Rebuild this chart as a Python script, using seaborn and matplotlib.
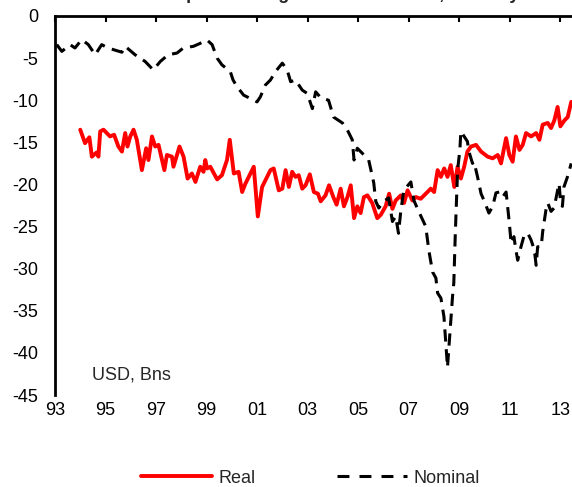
import matplotlib
matplotlib.use("Agg")
import matplotlib.pyplot as plt
from matplotlib.lines import Line2D
import seaborn as sns
import pandas as pd

# decimal year, USD bn
real_years = [1994.0, 1994.19, 1994.36, 1994.46, 1994.65, 1994.72, 1994.79, 1994.92,
              1995.05, 1995.18, 1995.34, 1995.51, 1995.65, 1995.78, 1995.87, 1995.98,
              1996.11, 1996.24, 1996.44, 1996.61, 1996.70, 1996.84, 1996.97, 1997.10,
              1997.33, 1997.43, 1997.63, 1997.69, 1997.93, 1998.09, 1998.25, 1998.42,
              1998.56, 1998.75, 1998.88, 1998.95, 1999.02, 1999.15, 1999.42, 1999.61,
              1999.81, 1999.92, 2000.08, 2000.27, 2000.41, 2000.54, 2000.74, 2000.87,
              2001.03, 2001.20, 2001.40, 2001.53, 2001.66, 2001.86, 2002.00, 2002.13,
              2002.26, 2002.39, 2002.52, 2002.65, 2002.79, 2002.92, 2003.09, 2003.25,
              2003.41, 2003.52, 2003.71, 2003.85, 2004.02, 2004.15, 2004.31, 2004.44,
              2004.58, 2004.71, 2004.84, 2004.97, 2005.10, 2005.23, 2005.37, 2005.56,
              2005.76, 2005.90, 2006.09, 2006.23, 2006.36, 2006.49, 2006.69, 2006.82,
              2006.96, 2007.15, 2007.29, 2007.48, 2007.75, 2007.88, 2008.01, 2008.15,
              2008.28, 2008.41, 2008.54, 2008.67, 2008.81, 2008.94, 2009.07, 2009.20,
              2009.33, 2009.47, 2009.67, 2009.87, 2010.13, 2010.33, 2010.53, 2010.66,
              2010.86, 2010.99, 2011.12, 2011.25, 2011.39, 2011.52, 2011.65, 2011.85,
              2012.05, 2012.18, 2012.31, 2012.51, 2012.64, 2012.77, 2012.90, 2013.01,
              2013.17, 2013.30, 2013.44, 2013.50]
real_vals = [-13.5, -15.1, -14.4, -16.7, -16.2, -16.7, -13.7, -13.5,
             -13.9, -14.3, -14.1, -15.5, -16.1, -13.9, -15.5, -14.3,
             -13.5, -14.7, -18.3, -15.7, -17.1, -14.3, -15.5, -15.3,
             -18.3, -16.5, -16.7, -17.9, -15.5, -16.7, -19.3, -18.7,
             -19.7, -17.9, -18.5, -17.1, -18.1, -17.9, -19.4, -18.9,
             -17.1, -14.7, -18.7, -18.5, -20.9, -19.9, -18.7, -17.9,
             -23.8, -20.3, -19.1, -18.3, -18.1, -20.7, -20.5, -18.3,
             -20.3, -18.5, -19.1, -18.9, -20.5, -20.1, -18.8, -20.9,
             -21.1, -22.0, -21.3, -20.1, -21.5, -22.4, -20.5, -22.6,
             -21.5, -20.1, -24.0, -22.6, -23.4, -21.5, -21.3, -22.2,
             -24.0, -23.6, -22.6, -21.1, -22.9, -21.9, -21.3, -22.2,
             -20.7, -21.9, -21.5, -21.7, -20.9, -20.5, -20.9, -18.3,
             -19.1, -18.1, -19.1, -17.7, -20.3, -17.9, -19.3, -17.9,
             -16.1, -15.5, -15.3, -16.1, -16.7, -16.9, -16.5, -17.5,
             -14.5, -16.5, -17.3, -14.3, -15.9, -15.3, -13.9, -14.3,
             -13.9, -14.7, -12.9, -12.7, -13.3, -12.4, -10.8, -13.1,
             -12.4, -12.0, -10.2, -10.2]

nominal_years = [1993.07, 1993.27, 1993.60, 1993.79, 1994.06, 1994.32, 1994.59, 1994.85,
                 1995.10, 1995.65, 1995.78, 1996.17, 1996.57, 1996.89, 1997.17, 1997.48,
                 1997.83, 1998.08, 1998.48, 1998.71, 1999.02, 1999.22, 1999.42, 1999.61,
                 1999.94, 2000.05, 2000.21, 2000.47, 2000.74, 2001.00, 2001.13, 2001.33,
                 2001.53, 2001.73, 2002.00, 2002.19, 2002.33, 2002.52, 2002.79, 2002.99,
                 2003.19, 2003.32, 2003.52, 2003.83, 2004.03, 2004.38, 2004.57, 2004.77,
                 2004.84, 2004.97, 2005.30, 2005.42, 2005.57, 2005.62, 2005.70, 2005.82,
                 2006.02, 2006.21, 2006.36, 2006.49, 2006.60, 2006.69, 2006.81, 2007.09,
                 2007.21, 2007.40, 2007.68, 2007.80, 2007.95, 2008.08, 2008.15, 2008.28,
                 2008.40, 2008.54, 2008.74, 2008.79, 2008.85, 2008.94, 2009.03, 2009.07,
                 2009.20, 2009.33, 2009.39, 2009.53, 2009.59, 2009.73, 2009.87, 2010.00,
                 2010.18, 2010.33, 2010.46, 2010.59, 2010.72, 2010.86, 2010.92, 2010.99,
                 2011.06, 2011.17, 2011.25, 2011.32, 2011.45, 2011.58, 2011.72, 2011.85,
                 2011.98, 2012.05, 2012.11, 2012.25, 2012.31, 2012.44, 2012.51, 2012.64,
                 2012.76, 2012.90, 2012.96, 2013.02, 2013.09, 2013.15, 2013.29, 2013.44]
nominal_vals = [-3.4, -4.2, -3.4, -3.8, -2.8, -3.4, -4.6, -3.4,
                -3.8, -4.3, -3.6, -4.6, -5.4, -6.4, -5.4, -4.6,
                -4.4, -3.8, -3.6, -3.3, -2.85, -3.4, -5.0, -5.8,
                -6.6, -7.6, -8.4, -9.4, -9.8, -10.2, -9.6, -8.2,
                -7.6, -6.6, -5.6, -6.4, -7.8, -7.6, -8.8, -9.2,
                -11.0, -9.0, -9.7, -10.0, -12.0, -12.7, -13.5, -14.7,
                -17.1, -15.7, -16.7, -17.1, -19.1, -19.8, -22.0, -22.8,
                -22.0, -21.6, -24.4, -23.8, -25.8, -23.2, -20.7, -19.7,
                -21.9, -23.2, -25.0, -27.8, -30.4, -31.1, -32.9, -33.5,
                -35.7, -41.7, -33.3, -31.7, -25.8, -18.3, -15.9, -13.7,
                -14.3, -14.9, -16.1, -17.5, -17.3, -19.1, -21.1, -22.0,
                -23.4, -22.6, -21.0, -20.9, -21.5, -20.9, -22.6, -24.6,
                -27.0, -26.2, -27.8, -29.0, -27.4, -26.0, -25.8, -26.6,
                -27.8, -29.6, -27.4, -27.4, -25.6, -23.0, -22.2, -23.2,
                -22.8, -20.7, -19.9, -22.2, -22.6, -20.3, -19.1, -17.5]

xtick_pos = [1993, 1995, 1997, 1999, 2001, 2003, 2005, 2007, 2009, 2011, 2013]
xtick_labels = ["93", "95", "97", "99", "01", "03", "05", "07", "09", "11", "13"]
ytick_pos = [0, -5, -10, -15, -20, -25, -30, -35, -40, -45]

sns.set_style("white")
plt.rcParams["font.family"] = ["Liberation Sans", "DejaVu Sans"]
plt.rcParams["font.size"] = 13

real_df = pd.DataFrame({"year": real_years, "value": real_vals})
nominal_df = pd.DataFrame({"year": nominal_years, "value": nominal_vals})

fig = plt.figure(figsize=(5.72, 4.87), dpi=100)
ax = fig.add_axes([55 / 572, 92 / 487, 517 / 572, 379 / 487])

sns.lineplot(data=real_df, x="year", y="value", ax=ax, color="#ff0000",
             lw=2.8, sort=False)
sns.lineplot(data=nominal_df, x="year", y="value", ax=ax, color="black",
             lw=2.2, sort=False, dashes=False, linestyle=(0, (4, 2.5)))

ax.set_xlim(1993, 2013.47)
ax.set_ylim(-45, 0)
ax.set_xticks(xtick_pos)
ax.set_xticklabels(xtick_labels)
ax.set_yticks(ytick_pos)
ax.set_yticklabels([str(v) for v in ytick_pos])
ax.set_xlabel("")
ax.set_ylabel("")

for side in ["right", "bottom"]:
    ax.spines[side].set_visible(False)
for side in ["left", "top"]:
    ax.spines[side].set_color("black")
    ax.spines[side].set_linewidth(2)

ax.tick_params(axis="x", top=True, bottom=False, labeltop=False, labelbottom=True,
               direction="in", length=4, width=1.5, pad=5, colors="black")
ax.tick_params(axis="y", direction="in", length=4, width=1.5, pad=12, colors="black")

ax.text(1994.45, -42.6, "USD, Bns", va="center", ha="left", fontsize=13)

# title sits almost entirely above the canvas, as in the source
fig.text(0.58, 1.003, "Non-petroleum goods trade deficit, monthly", ha="center",
         va="baseline", fontsize=13, fontweight="bold")

handles = [Line2D([], [], color="#ff0000", lw=2.8),
           Line2D([], [], color="black", lw=2.2, dashes=(3.9, 3.3))]
fig.legend(handles, ["Real", "Nominal"], loc="center", bbox_to_anchor=(0.543, 0.018),
           ncol=2, frameon=False, fontsize=13, handlelength=3.9,
           handletextpad=0.35, columnspacing=4.5)

fig.savefig("out.png", dpi=100)
